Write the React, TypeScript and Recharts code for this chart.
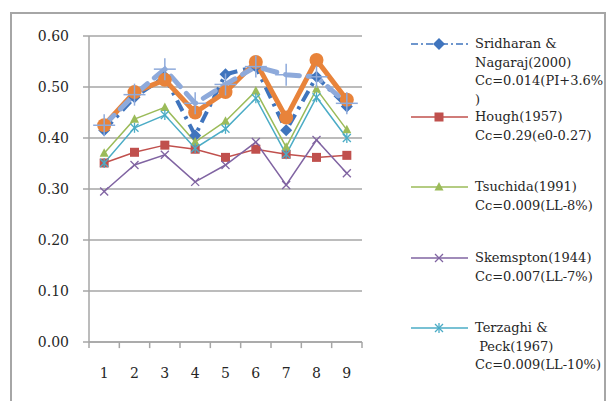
import React from "react";
import { LineChart, Line, XAxis, YAxis, CartesianGrid, Legend, ReferenceLine } from "recharts";

const categories = [1, 2, 3, 4, 5, 6, 7, 8, 9];
const sridharan = [0.415, 0.48, 0.52, 0.405, 0.525, 0.54, 0.415, 0.52, 0.462];
const hough = [0.351, 0.372, 0.386, 0.378, 0.362, 0.378, 0.368, 0.362, 0.366];
const tsuchida = [0.37, 0.437, 0.46, 0.392, 0.433, 0.492, 0.382, 0.496, 0.416];
const skempton = [0.295, 0.347, 0.367, 0.314, 0.347, 0.392, 0.308, 0.396, 0.331];
const terzaghi = [0.351, 0.42, 0.445, 0.38, 0.418, 0.478, 0.368, 0.48, 0.4];
const measured = [0.425, 0.49, 0.514, 0.45, 0.49, 0.549, 0.44, 0.553, 0.475];
const averaged = [0.425, 0.485, 0.535, 0.468, 0.505, 0.54, 0.524, 0.52, 0.468];
const yTicks = [0, 0.1, 0.2, 0.3, 0.4, 0.5, 0.6];
const boundaries = [0.5, 1.5, 2.5, 3.5, 4.5, 5.5, 6.5, 7.5, 8.5, 9.5];

const legendItems = [
  { key: "sridharan", color: "#3f74bd", marker: "diamond", dash: "7 3 2 3", lines: ["Sridharan &", "Nagaraj(2000)", "Cc=0.014(PI+3.6%", ")"], top: 44 },
  { key: "hough", color: "#c0504d", marker: "square", dash: "", lines: ["Hough(1957)", "Cc=0.29(e0-0.27)"], top: 117 },
  { key: "tsuchida", color: "#9bbb59", marker: "triangle", dash: "", lines: ["Tsuchida(1991)", "Cc=0.009(LL-8%)"], top: 187 },
  { key: "skempton", color: "#8064a2", marker: "x", dash: "", lines: ["Skemspton(1944)", "Cc=0.007(LL-7%)"], top: 258 },
  { key: "terzaghi", color: "#4bacc6", marker: "star", dash: "", lines: ["Terzaghi &", " Peck(1967)", "Cc=0.009(LL-10%)"], top: 328 },
];

const data = categories.map((n, i) => ({
  n,
  sridharan: sridharan[i],
  hough: hough[i],
  tsuchida: tsuchida[i],
  skempton: skempton[i],
  terzaghi: terzaghi[i],
  measured: measured[i],
  averaged: averaged[i],
}));

const FONT = "'DejaVu Serif', serif";

function Marker({ type, cx, cy, color }: { type: string; cx: number; cy: number; color: string }) {
  if (cx == null || cy == null) return null;
  switch (type) {
    case "diamond":
      return <polygon points={`${cx},${cy - 6} ${cx + 6},${cy} ${cx},${cy + 6} ${cx - 6},${cy}`} fill={color} />;
    case "square":
      return <rect x={cx - 4.5} y={cy - 4.5} width={9} height={9} fill={color} />;
    case "triangle":
      return <polygon points={`${cx},${cy - 5} ${cx + 4.5},${cy + 3.5} ${cx - 4.5},${cy + 3.5}`} fill={color} />;
    case "x":
      return (
        <g stroke={color} strokeWidth={1.3}>
          <line x1={cx - 4} y1={cy - 4} x2={cx + 4} y2={cy + 4} />
          <line x1={cx - 4} y1={cy + 4} x2={cx + 4} y2={cy - 4} />
        </g>
      );
    case "star":
      return (
        <g stroke={color} strokeWidth={1.3}>
          <line x1={cx - 4} y1={cy - 4} x2={cx + 4} y2={cy + 4} />
          <line x1={cx - 4} y1={cy + 4} x2={cx + 4} y2={cy - 4} />
          <line x1={cx} y1={cy - 5} x2={cx} y2={cy + 5} />
        </g>
      );
    case "plus":
      return (
        <g stroke={color} strokeWidth={1.5}>
          <line x1={cx - 11} y1={cy} x2={cx + 11} y2={cy} />
          <line x1={cx} y1={cy - 11} x2={cx} y2={cy + 11} />
        </g>
      );
    case "circle":
      return <circle cx={cx} cy={cy} r={7} fill={color} />;
    default:
      return null;
  }
}

const dotFor = (type: string, color: string) => (p: any) => (
  <Marker key={`${type}-${p.index}`} type={type} cx={p.cx} cy={p.cy} color={color} />
);

function LegendContent() {
  return (
    <div style={{ position: "relative", width: 607, height: 401, fontFamily: FONT, fontSize: 13, color: "#262626" }}>
      {legendItems.map((it) => (
        <div key={it.key}>
          <svg style={{ position: "absolute", left: 408, top: it.top - 8 }} width={62} height={16}>
            <line x1={3} y1={8} x2={60} y2={8} stroke={it.color} strokeWidth={1.5} strokeDasharray={it.dash || undefined} />
            <Marker type={it.marker} cx={31} cy={8} color={it.color} />
          </svg>
          {it.lines.map((ln, j) => (
            <div
              key={j}
              style={{
                position: "absolute",
                left: 475,
                top: it.top - 9 + j * 18.7,
                lineHeight: "18px",
                whiteSpace: "pre",
              }}
            >
              {ln}
            </div>
          ))}
        </div>
      ))}
    </div>
  );
}

export default function App() {
  return (
    <div style={{ position: "fixed", left: 0, top: 0, width: 607, height: 401, background: "#fff", overflow: "hidden" }}>
      <div
        style={{
          position: "absolute",
          left: 10,
          top: 12,
          width: 592,
          height: 400,
          borderLeft: "2px solid #a6a6a6",
          borderTop: "2px solid #a6a6a6",
          borderRight: "2px solid #a6a6a6",
        }}
      />
      <div style={{ position: "absolute", left: 0, top: 0 }}>
        <LineChart width={607} height={401} data={data} margin={{ top: 36, right: 245, bottom: 29, left: 0 }}>
          <CartesianGrid vertical={false} stroke="#a6a6a6" strokeWidth={1.5} />
          <XAxis
            dataKey="n"
            type="number"
            domain={[0.5, 9.5]}
            ticks={categories}
            interval={0}
            height={30}
            tickLine={false}
            tickSize={6}
            tickMargin={20}
            axisLine={{ stroke: "#a6a6a6", strokeWidth: 1.5 }}
            tick={{ fontFamily: FONT, fontSize: 14, fill: "#262626" }}
          />
          <YAxis
            type="number"
            domain={[0, 0.6]}
            ticks={yTicks}
            interval={0}
            width={89}
            tickSize={6}
            tickMargin={14}
            tickFormatter={(v: number) => v.toFixed(2)}
            axisLine={{ stroke: "#a6a6a6", strokeWidth: 1.5 }}
            tickLine={{ stroke: "#a6a6a6", strokeWidth: 1.5 }}
            tick={{ fontFamily: FONT, fontSize: 14, fill: "#262626" }}
          />
          {boundaries.map((b) => (
            <ReferenceLine
              key={b}
              segment={[{ x: b, y: 0 }, { x: b, y: -0.012 }]}
              ifOverflow="visible"
              stroke="#a6a6a6"
              strokeWidth={1.5}
            />
          ))}
          <Line dataKey="sridharan" stroke="#3f74bd" strokeWidth={4} strokeDasharray="12 6 3 6" dot={dotFor("diamond", "#3f74bd")} isAnimationActive={false} />
          <Line dataKey="hough" stroke="#c0504d" strokeWidth={1.5} dot={dotFor("square", "#c0504d")} isAnimationActive={false} />
          <Line dataKey="tsuchida" stroke="#9bbb59" strokeWidth={1.5} dot={dotFor("triangle", "#9bbb59")} isAnimationActive={false} />
          <Line dataKey="skempton" stroke="#8064a2" strokeWidth={1.5} dot={dotFor("x", "#8064a2")} isAnimationActive={false} />
          <Line dataKey="terzaghi" stroke="#4bacc6" strokeWidth={1.5} dot={dotFor("star", "#4bacc6")} isAnimationActive={false} />
          <Line dataKey="measured" stroke="#e8833a" strokeWidth={5} dot={dotFor("circle", "#e8833a")} isAnimationActive={false} />
          <Line dataKey="averaged" stroke="#8eaadb" strokeWidth={5} strokeDasharray="14 9" strokeLinecap="round" dot={dotFor("plus", "#8eaadb")} isAnimationActive={false} />
          <Legend
            layout="horizontal"
            verticalAlign="middle"
            align="center"
            width={607}
            wrapperStyle={{ left: 0, top: 0, width: 607, height: 401, pointerEvents: "none" }}
            content={() => <LegendContent />}
          />
        </LineChart>
      </div>
    </div>
  );
}
